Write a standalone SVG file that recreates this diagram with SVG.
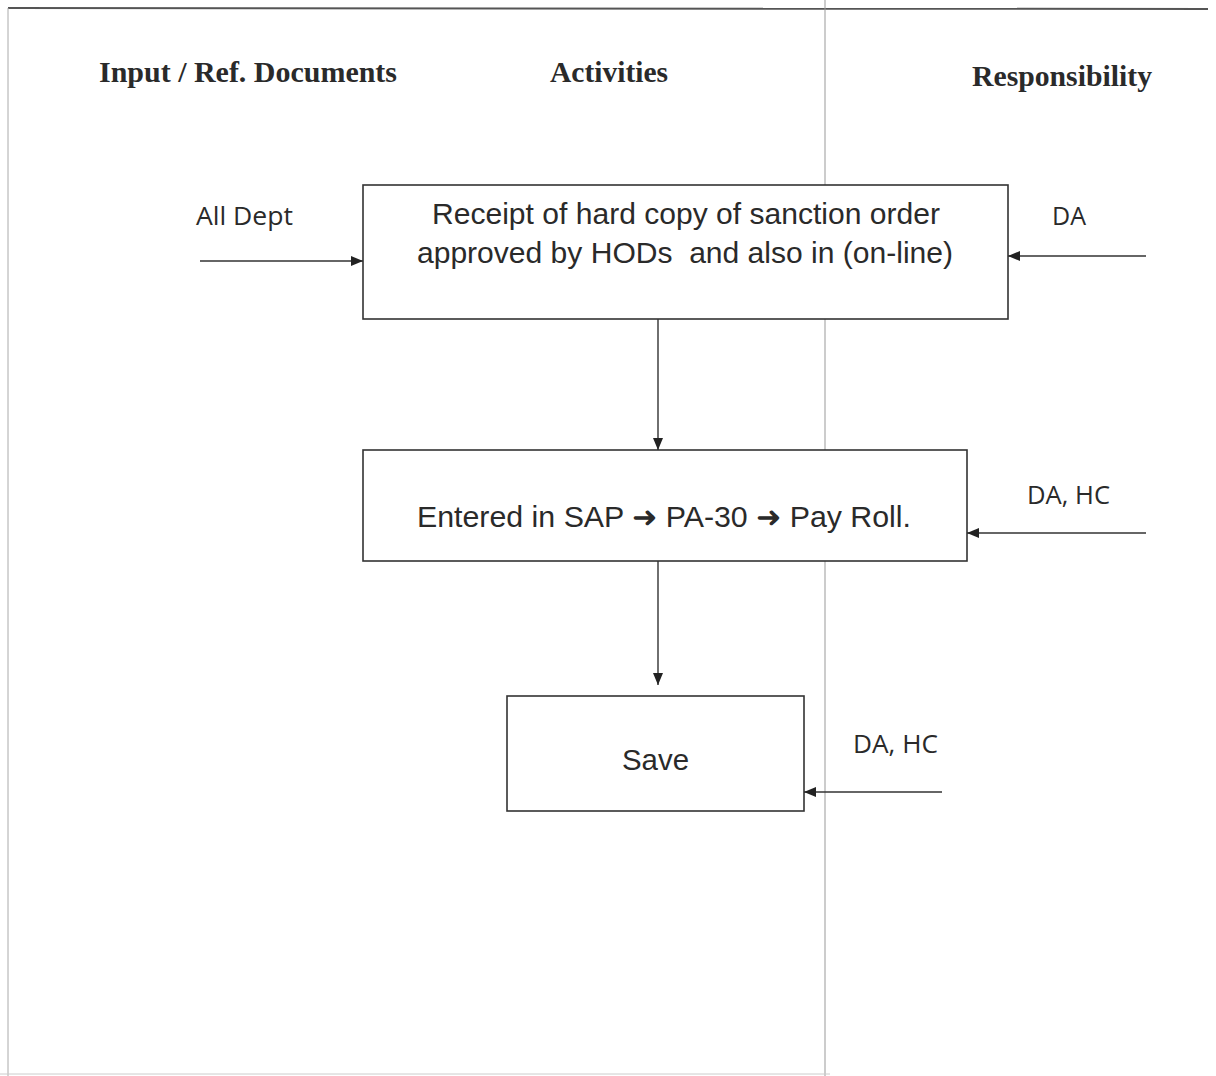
<svg xmlns="http://www.w3.org/2000/svg" width="1216" height="1076" viewBox="0 0 1216 1076">
  <style>
    .head { font-family: "Liberation Serif", "Times New Roman", serif; font-weight: bold; font-size: 29px; fill: #2a2a2a; }
    .body { font-family: "Liberation Sans", Arial, sans-serif; font-size: 29px; fill: #2a2a2a; }
    .tag  { font-family: "Open Sans", "Noto Sans", sans-serif; font-size: 25px; fill: #2a2a2a; }
    .box  { fill: #ffffff; stroke: #333; stroke-width: 1.6; }
    .wire { stroke: #333; stroke-width: 1.4; fill: none; marker-end: url(#tip); }
  </style>
  <defs>
    <marker id="tip" viewBox="0 0 12 10" refX="12" refY="5" markerWidth="12" markerHeight="10" markerUnits="userSpaceOnUse" orient="auto">
      <path d="M0,0 L12,5 L0,10 Z" fill="#222"/>
    </marker>
  </defs>

  <rect width="1216" height="1076" fill="#ffffff"/>

  <!-- page frame and column divider -->
  <g id="frame" fill="none">
    <line x1="8" y1="8" x2="1208" y2="9" stroke="#555" stroke-width="2"/>
    <line x1="8" y1="8" x2="8" y2="1076" stroke="#aaa" stroke-width="1"/>
    <line x1="825" y1="0" x2="825" y2="1076" stroke="#999" stroke-width="1"/>
    <line x1="0" y1="1074" x2="830" y2="1074" stroke="#ccc" stroke-width="1"/>
  </g>

  <!-- column headings -->
  <g id="headings">
    <text class="head" x="99" y="82" textLength="298" lengthAdjust="spacingAndGlyphs">Input / Ref. Documents</text>
    <text class="head" x="550" y="82" textLength="118" lengthAdjust="spacingAndGlyphs">Activities</text>
    <text class="head" x="972" y="86" textLength="180" lengthAdjust="spacingAndGlyphs">Responsibility</text>
  </g>

  <!-- process steps -->
  <g id="step-receipt">
    <rect class="box" x="363" y="185" width="645" height="134"/>
    <text class="body" x="432" y="224" textLength="508" lengthAdjust="spacingAndGlyphs">Receipt of hard copy of sanction order</text>
    <text class="body" x="417" y="263" textLength="536" lengthAdjust="spacingAndGlyphs" xml:space="preserve">approved by HODs  and also in (on-line)</text>
  </g>
  <g id="step-entry">
    <rect class="box" x="363" y="450" width="604" height="111"/>
    <text class="body" x="417" y="527" textLength="494" lengthAdjust="spacingAndGlyphs">Entered in SAP ➜ PA-30 ➜ Pay Roll.</text>
  </g>
  <g id="step-save">
    <rect class="box" x="507" y="696" width="297" height="115"/>
    <text class="body" x="622" y="770" textLength="67" lengthAdjust="spacingAndGlyphs">Save</text>
  </g>

  <!-- side labels -->
  <g id="label-input">
    <text class="tag" x="196" y="225" textLength="97" lengthAdjust="spacingAndGlyphs">All Dept</text>
  </g>
  <g id="label-resp-1">
    <text class="tag" x="1052" y="225" textLength="34" lengthAdjust="spacingAndGlyphs">DA</text>
  </g>
  <g id="label-resp-2">
    <text class="tag" x="1027" y="504" textLength="83" lengthAdjust="spacingAndGlyphs">DA, HC</text>
  </g>
  <g id="label-resp-3">
    <text class="tag" x="853" y="753" textLength="85" lengthAdjust="spacingAndGlyphs">DA, HC</text>
  </g>

  <!-- connectors -->
  <g id="connectors">
    <line class="wire" x1="200" y1="261" x2="363" y2="261"/>
    <line class="wire" x1="1146" y1="256" x2="1008" y2="256"/>
    <line class="wire" x1="658" y1="319" x2="658" y2="450"/>
    <line class="wire" x1="1146" y1="533" x2="967" y2="533"/>
    <line class="wire" x1="658" y1="561" x2="658" y2="685"/>
    <line class="wire" x1="942" y1="792" x2="804" y2="792"/>
  </g>
</svg>
